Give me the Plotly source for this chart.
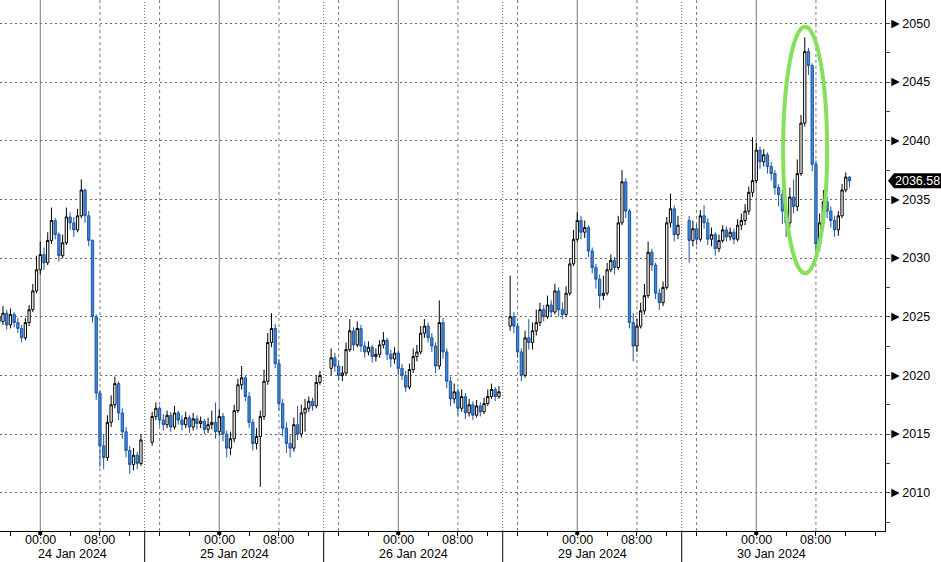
import plotly.graph_objects as go

# ---- data (30-minute candles, x = hours on a compressed trading axis, 0 = 24 Jan 00:00) ----
SEG_START = [-6.0, 15.0, 39.0, 63.0, 87.0]
SEG_FIRST_OPEN = [2025.4, 2014.3, 2020.6, 2024.2, 2033.2]
BAR_HOURS = 0.5

CLOSE_A = [2025.0, 2024.6, 2025.3, 2024.3, 2025.2, 2024.5, 2024.0, 2023.2, 2024.5, 2025.6,
           2027.2, 2029.0, 2030.3, 2029.6, 2031.5, 2033.2, 2032.0, 2030.2, 2031.3, 2033.5,
           2033.0, 2032.4, 2033.6, 2035.8, 2033.6, 2031.5, 2025.0, 2018.5, 2014.0, 2013.0,
           2016.0, 2017.5, 2019.3, 2016.8, 2015.2, 2013.6, 2012.4, 2013.2, 2012.5, 2014.5]
HIGH_A = [2025.8, 2025.4, 2025.9, 2025.6, 2025.7, 2025.4, 2024.9, 2024.3, 2024.9, 2026.0,
          2027.8, 2030.2, 2031.4, 2030.9, 2032.2, 2034.3, 2033.4, 2032.2, 2032.0, 2034.3,
          2033.9, 2033.5, 2034.2, 2036.7, 2035.9, 2034.0, 2031.6, 2025.2, 2018.7, 2015.0,
          2016.6, 2018.3, 2019.9, 2019.5, 2017.2, 2015.6, 2014.0, 2013.8, 2013.5, 2015.0]
LOW_A = [2024.6, 2024.1, 2024.3, 2023.9, 2024.0, 2024.1, 2023.6, 2022.8, 2023.0, 2024.2,
         2025.4, 2027.0, 2028.6, 2029.0, 2029.4, 2031.2, 2031.6, 2029.7, 2030.0, 2031.1,
         2032.4, 2031.8, 2032.2, 2033.4, 2033.0, 2031.0, 2024.5, 2017.9, 2012.2, 2012.0,
         2012.7, 2015.6, 2017.2, 2016.2, 2014.6, 2013.0, 2011.6, 2011.9, 2012.0, 2012.3]

CLOSE_B = [2016.5, 2017.2, 2016.2, 2015.8, 2016.6, 2015.6, 2016.8, 2016.2, 2015.8, 2016.4,
           2015.6, 2016.3, 2015.9, 2016.1, 2015.4, 2015.8, 2016.0, 2015.2, 2016.5, 2015.0,
           2013.8, 2014.6, 2017.0, 2019.2, 2019.8, 2018.2, 2016.0, 2014.2, 2014.8, 2016.5,
           2019.5, 2022.8, 2024.0, 2021.0, 2017.6, 2015.5, 2014.2, 2013.8, 2015.8, 2015.0,
           2016.8, 2017.2, 2017.8, 2017.4, 2019.4, 2020.0]
HIGH_B = [2016.9, 2017.7, 2017.4, 2016.7, 2017.0, 2016.9, 2017.4, 2017.0, 2016.6, 2016.9,
          2016.6, 2016.8, 2016.6, 2016.5, 2016.3, 2016.4, 2017.0, 2017.7, 2017.1, 2016.8,
          2015.3, 2015.2, 2017.5, 2019.7, 2020.8, 2020.0, 2018.6, 2016.3, 2015.5, 2017.0,
          2020.5, 2023.6, 2025.3, 2024.4, 2021.4, 2018.0, 2016.0, 2014.9, 2016.4, 2017.4,
          2017.5, 2018.0, 2018.2, 2018.1, 2020.0, 2020.4]
LOW_B = [2014.0, 2016.2, 2015.7, 2015.3, 2015.5, 2015.2, 2015.4, 2015.8, 2015.3, 2015.5,
         2015.1, 2015.3, 2015.4, 2015.5, 2015.0, 2015.1, 2015.4, 2014.6, 2014.9, 2014.4,
         2013.0, 2013.2, 2014.3, 2016.8, 2018.8, 2017.8, 2015.5, 2013.6, 2013.7, 2010.5,
         2016.2, 2019.2, 2022.4, 2020.6, 2017.0, 2014.8, 2013.4, 2013.0, 2013.5, 2014.5,
         2014.7, 2015.2, 2016.9, 2017.0, 2017.2, 2019.2]

CLOSE_C = [2021.5, 2020.8, 2020.0, 2020.2, 2022.2, 2023.8, 2022.6, 2024.0, 2022.5, 2022.0,
           2022.4, 2021.6, 2021.8, 2022.6, 2023.0, 2021.8, 2021.4, 2021.9, 2020.6, 2020.0,
           2019.0, 2020.5, 2021.6, 2022.0, 2023.6, 2024.2, 2023.2, 2022.5, 2020.8, 2024.5,
           2022.0, 2019.5, 2018.0, 2018.6, 2017.2, 2018.2, 2016.8, 2017.5, 2016.6, 2017.4,
           2016.9, 2017.6, 2018.2, 2018.8, 2018.2, 2018.6]
HIGH_C = [2022.3, 2021.9, 2021.2, 2020.8, 2022.8, 2024.8, 2024.1, 2024.6, 2024.3, 2022.9,
          2022.9, 2022.6, 2022.3, 2023.0, 2023.7, 2023.2, 2022.2, 2022.4, 2022.1, 2021.0,
          2020.4, 2021.0, 2022.3, 2022.6, 2024.2, 2024.8, 2024.5, 2023.6, 2022.8, 2026.4,
          2024.9, 2022.3, 2019.9, 2019.3, 2018.9, 2018.8, 2018.5, 2018.0, 2017.8, 2017.9,
          2017.7, 2018.1, 2018.8, 2019.3, 2019.0, 2019.1]
LOW_C = [2020.0, 2020.3, 2019.6, 2019.5, 2020.0, 2022.0, 2022.1, 2022.4, 2022.0, 2021.5,
         2021.7, 2021.1, 2021.2, 2021.5, 2022.3, 2021.3, 2020.7, 2021.0, 2020.1, 2019.6,
         2018.6, 2018.8, 2020.2, 2021.2, 2021.8, 2023.2, 2022.8, 2022.0, 2020.2, 2020.5,
         2021.4, 2018.9, 2017.4, 2017.6, 2016.6, 2016.9, 2016.3, 2016.5, 2016.2, 2016.4,
         2016.5, 2016.7, 2017.4, 2018.0, 2017.8, 2018.0]

CLOSE_D = [2025.0, 2024.2, 2022.0, 2020.0, 2023.2, 2022.8, 2023.8, 2024.5, 2025.6, 2025.0,
           2026.0, 2025.4, 2027.2, 2025.6, 2025.2, 2027.0, 2029.5, 2031.6, 2033.2, 2032.2,
           2032.6, 2030.6, 2029.2, 2028.2, 2026.8, 2027.0, 2029.0, 2029.8, 2029.2, 2033.0,
           2036.5, 2034.0, 2024.5, 2022.5, 2024.2, 2025.5, 2026.8, 2030.5, 2029.4, 2027.0,
           2026.2, 2027.5, 2033.0, 2034.2, 2032.0, 2032.8]
HIGH_D = [2028.5, 2025.4, 2024.5, 2022.3, 2023.8, 2024.8, 2024.5, 2025.6, 2026.2, 2026.0,
          2026.8, 2026.4, 2027.8, 2027.5, 2026.2, 2027.6, 2030.0, 2032.4, 2033.9, 2033.6,
          2033.2, 2032.8, 2030.9, 2029.5, 2028.6, 2028.5, 2029.6, 2030.3, 2030.1, 2033.6,
          2037.5, 2036.8, 2034.2, 2025.3, 2024.8, 2026.2, 2027.8, 2031.4, 2030.8, 2029.6,
          2027.4, 2028.0, 2033.5, 2035.5, 2034.5, 2033.6]
LOW_D = [2023.8, 2023.6, 2021.5, 2019.5, 2019.8, 2022.2, 2022.2, 2023.4, 2024.2, 2024.6,
         2024.8, 2025.0, 2025.2, 2025.0, 2024.8, 2025.0, 2026.8, 2029.3, 2031.4, 2031.6,
         2031.7, 2030.1, 2028.7, 2027.4, 2025.7, 2026.4, 2026.8, 2028.8, 2028.6, 2029.0,
         2032.8, 2033.4, 2024.0, 2021.2, 2022.0, 2024.0, 2025.2, 2026.6, 2028.9, 2026.5,
         2025.6, 2025.9, 2027.3, 2032.6, 2031.4, 2031.6]

CLOSE_E = [2031.5, 2032.5, 2031.6, 2033.6, 2033.0, 2031.6, 2032.0, 2030.8, 2031.5, 2032.4,
           2031.8, 2032.2, 2031.6, 2032.8, 2033.2, 2034.0, 2035.6, 2036.6, 2039.2, 2038.2,
           2038.8, 2037.8, 2037.2, 2036.0, 2035.4, 2034.0, 2033.0, 2035.2, 2034.4, 2037.2,
           2041.5, 2047.6, 2046.4, 2038.0, 2031.2, 2033.0, 2034.8, 2034.0, 2033.2, 2032.4,
           2033.6, 2035.8, 2036.9, 2036.58]
HIGH_E = [2033.6, 2033.2, 2032.9, 2034.1, 2034.5, 2033.4, 2032.6, 2032.2, 2032.0, 2032.8,
          2032.7, 2032.6, 2032.5, 2033.3, 2033.8, 2034.6, 2036.1, 2040.3, 2039.8, 2039.5,
          2039.3, 2039.0, 2038.2, 2037.5, 2036.3, 2035.8, 2034.6, 2036.0, 2036.7, 2038.4,
          2042.2, 2048.8, 2047.9, 2046.6, 2038.3, 2033.8, 2035.8, 2035.2, 2034.4, 2033.6,
          2034.0, 2036.3, 2037.3, 2037.0]
LOW_E = [2029.6, 2031.0, 2031.1, 2031.4, 2032.5, 2031.1, 2031.0, 2030.2, 2030.5, 2031.3,
         2031.4, 2031.5, 2031.2, 2031.4, 2032.4, 2032.8, 2033.7, 2035.2, 2036.4, 2037.6,
         2037.8, 2037.2, 2036.6, 2035.4, 2034.4, 2032.9, 2031.8, 2032.6, 2033.8, 2034.0,
         2037.0, 2041.2, 2045.6, 2037.4, 2030.1, 2030.6, 2032.6, 2033.4, 2032.6, 2031.8,
         2031.9, 2033.4, 2035.6, 2036.0]

SEG_CLOSE = [CLOSE_A, CLOSE_B, CLOSE_C, CLOSE_D, CLOSE_E]
SEG_HIGH = [HIGH_A, HIGH_B, HIGH_C, HIGH_D, HIGH_E]
SEG_LOW = [LOW_A, LOW_B, LOW_C, LOW_D, LOW_E]

# axis structure
DAY_LABELS = ["24 Jan 2024", "25 Jan 2024", "26 Jan 2024", "29 Jan 2024", "30 Jan 2024"]
DAY_MIDNIGHT = [0, 24, 48, 72, 96]
SESSION_BOUNDS = [14, 38, 62, 86, 110]
DASHED_HOURS = [8, 16, 32, 40, 56, 64, 80, 88, 104]
X_TICKVALS = [0, 8, 24, 32, 48, 56, 72, 80, 96, 104]
X_TICKTEXT = ["00:00", "08:00"] * 5
Y_TICKS = [2010, 2015, 2020, 2025, 2030, 2035, 2040, 2045, 2050]
X_RANGE = [-5.40, 113.26]
Y_RANGE = [2006.74, 2051.99]
LAST_PRICE = CLOSE_E[-1]

FONT = "Liberation Sans"

# build OHLC arrays
xs, o, h, l, c = [], [], [], [], []
for start, first_open, cl, hi, lo in zip(SEG_START, SEG_FIRST_OPEN, SEG_CLOSE, SEG_HIGH, SEG_LOW):
    prev = first_open
    for i, (cc, hh, ll) in enumerate(zip(cl, hi, lo)):
        xs.append(start + BAR_HOURS * i)
        o.append(prev)
        h.append(hh)
        l.append(ll)
        c.append(cc)
        prev = cc

fig = go.Figure()
fig.add_trace(go.Candlestick(
    x=xs, open=o, high=h, low=l, close=c,
    increasing=dict(line=dict(color="black", width=1), fillcolor="white"),
    decreasing=dict(line=dict(color="#1f55a0", width=1), fillcolor="#3b8ce0"),
    whiskerwidth=0, hoverinfo="skip", showlegend=False,
))

shapes = []
for m in DAY_MIDNIGHT:
    shapes.append(dict(type="line", xref="x", yref="paper", x0=m, x1=m, y0=0, y1=1,
                       line=dict(color="#7a7a7a", width=1), layer="below"))
    # small square marker on the time axis at midnight
    shapes.append(dict(type="path", xref="x", yref="paper", xsizemode="pixel", ysizemode="pixel",
                       xanchor=m, yanchor=0, path="M -2,0 L 2,0 L 2,-4 L -2,-4 Z",
                       fillcolor="black", line=dict(width=0), layer="above"))
for d in DASHED_HOURS:
    shapes.append(dict(type="line", xref="x", yref="paper", x0=d, x1=d, y0=0, y1=1,
                       line=dict(color="#7a7a7a", width=1, dash="3px,3px"), layer="below"))
for b in SESSION_BOUNDS[:-1]:
    shapes.append(dict(type="line", xref="x", yref="paper", x0=b, x1=b, y0=0, y1=1,
                       line=dict(color="#666666", width=1, dash="1px,2px"), layer="below"))
    shapes.append(dict(type="line", xref="x", yref="paper", x0=b, x1=b, y0=0, y1=-0.07,
                       line=dict(color="black", width=1), layer="above"))

# highlight ellipse around the spike
shapes.append(dict(type="circle", xref="x", yref="y", x0=99.6, x1=105.5, y0=2028.7, y1=2049.7,
                   line=dict(color="#86e05c", width=4), layer="above"))

# last-price tag
shapes.append(dict(type="path", xref="paper", yref="y", xsizemode="pixel", ysizemode="pixel",
                   xanchor=1, yanchor=LAST_PRICE,
                   path="M 3,0 L 9,7.5 L 57,7.5 L 57,-7.5 L 9,-7.5 Z",
                   fillcolor="black", line=dict(width=0), layer="above"))

annotations = [dict(xref="paper", yref="y", x=1, y=LAST_PRICE, xanchor="left", yanchor="middle",
                    xshift=8, text=f"{LAST_PRICE:.2f}", showarrow=False,
                    font=dict(family=FONT, size=12.5, color="white"))]

# time-of-day tick labels
for tv, tt in zip(X_TICKVALS, X_TICKTEXT):
    annotations.append(dict(xref="x", yref="paper", x=tv, y=0, yshift=-8.5,
                            xanchor="center", yanchor="middle", text=tt, showarrow=False,
                            borderpad=0,
                            font=dict(family=FONT, size=12.5, color="black")))

# date labels centred on the visible part of each session
prev_bound = X_RANGE[0]
for lab, b in zip(DAY_LABELS, SESSION_BOUNDS):
    lo = max(prev_bound, X_RANGE[0])
    hi = b
    annotations.append(dict(xref="x", yref="paper", x=(lo + hi) / 2, y=0, yshift=-23,
                            xanchor="center", yanchor="middle", text=lab, showarrow=False,
                            borderpad=0,
                            font=dict(family=FONT, size=12.5, color="black")))
    prev_bound = b

fig.update_layout(
    width=941, height=562,
    margin=dict(l=0, r=56, t=0, b=31),
    paper_bgcolor="white", plot_bgcolor="white",
    showlegend=False, boxgap=0.12,
    font=dict(family=FONT, size=13, color="black"),
    shapes=shapes, annotations=annotations,
    xaxis=dict(range=X_RANGE, showgrid=False, zeroline=False, showline=True,
               linecolor="black", linewidth=1, ticks="outside", ticklen=4, tickcolor="black",
               tickvals=X_TICKVALS, showticklabels=False,
               minor=dict(dtick=4, tick0=0, ticks="outside", ticklen=4, tickcolor="black",
                          showgrid=False),
               rangeslider=dict(visible=False), fixedrange=True),
    yaxis=dict(side="right", range=Y_RANGE, tickvals=Y_TICKS,
               ticktext=[f"<span style='font-size:14px'>►</span>{v}" for v in Y_TICKS],
               tickfont=dict(family=FONT, size=12.5, color="black"),
               showgrid=True, gridcolor="#6a6a6a", gridwidth=1, griddash="2px,3px",
               zeroline=False, showline=True, linecolor="black", linewidth=1, ticks="",
               minor=dict(dtick=2.5, tick0=2010, ticks="outside", ticklen=4,
                          tickcolor="#444", showgrid=False),
               fixedrange=True),
)

fig.write_html("out.html", config={"displayModeBar": False},
               post_script="document.body.style.margin='0';document.body.style.overflow='hidden';")
